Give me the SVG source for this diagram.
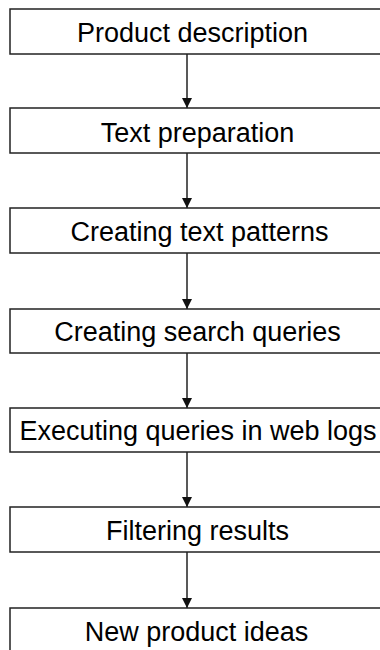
<svg xmlns="http://www.w3.org/2000/svg" width="380" height="650" viewBox="0 0 380 650">
<style>
.box{fill:#fff;stroke:#222;stroke-width:1.5}
.lbl{font-family:"Liberation Sans",Arial,sans-serif;font-size:27px;fill:#000;text-anchor:middle}
.con{stroke:#222;stroke-width:1.5;fill:none}
</style>
<defs>
<marker id="ah" markerUnits="userSpaceOnUse" markerWidth="10" markerHeight="11" refX="10" refY="5" orient="auto">
<path d="M0,0 L10,5 L0,10 Z" fill="#111"/>
</marker>
</defs>
<rect width="380" height="650" fill="#fff"/>
<g id="connectors">
<line class="con" x1="187" y1="54" x2="187" y2="108" marker-end="url(#ah)"/>
<line class="con" x1="187" y1="153" x2="187" y2="208" marker-end="url(#ah)"/>
<line class="con" x1="187" y1="253" x2="187" y2="309" marker-end="url(#ah)"/>
<line class="con" x1="187" y1="353" x2="187" y2="408" marker-end="url(#ah)"/>
<line class="con" x1="187" y1="452" x2="187" y2="507" marker-end="url(#ah)"/>
<line class="con" x1="187" y1="552" x2="187" y2="608" marker-end="url(#ah)"/>
</g>
<g id="n1"><rect class="box" x="10" y="9" width="380" height="45"/><text class="lbl" x="192.5" y="42">Product description</text></g>
<g id="n2"><rect class="box" x="10" y="108" width="380" height="45"/><text class="lbl" x="197.5" y="141.5">Text preparation</text></g>
<g id="n3"><rect class="box" x="10" y="208" width="380" height="45"/><text class="lbl" x="199.5" y="241">Creating text patterns</text></g>
<g id="n4"><rect class="box" x="10" y="309" width="380" height="44"/><text class="lbl" x="197.5" y="340.5">Creating search queries</text></g>
<g id="n5"><rect class="box" x="10" y="408" width="380" height="44"/><text class="lbl" x="198" y="440">Executing queries in web logs</text></g>
<g id="n6"><rect class="box" x="10" y="507" width="380" height="45"/><text class="lbl" x="197.5" y="540">Filtering results</text></g>
<g id="n7"><rect class="box" x="10" y="608" width="380" height="60"/><text class="lbl" x="196.5" y="641">New product ideas</text></g>
</svg>
